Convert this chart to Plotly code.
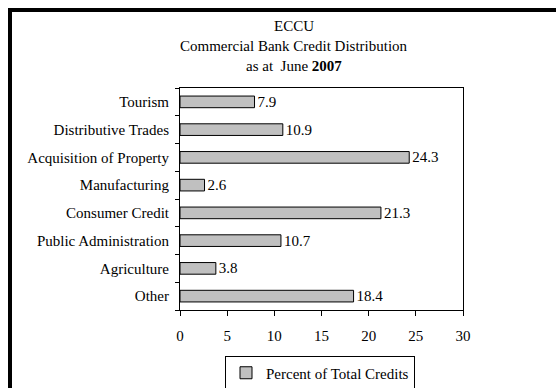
import plotly.graph_objects as go

# Sector shares of commercial bank credit, top-to-bottom as listed
sectors = ["Tourism", "Distributive Trades", "Acquisition of Property", "Manufacturing",
           "Consumer Credit", "Public Administration", "Agriculture", "Other"]
shares = [7.9, 10.9, 24.3, 2.6, 21.3, 10.7, 3.8, 18.4]
series_name = "Percent of Total Credits"
title_lines = ["ECCU", "Commercial Bank Credit Distribution", "as at  June <b>2007</b>"]

W, H = 556, 388
L, R, T, B = 180, 93, 88, 78
pw, ph = W - L - R, H - T - B

def px_x(x):
    return (x - L) / pw

def px_y(y):
    return (H - B - y) / ph

FONT = "Liberation Serif"
FS = 15

fig = go.Figure()
fig.add_trace(go.Bar(
    y=sectors, x=shares, orientation="h", name=series_name,
    marker=dict(color="#C0C0C0", line=dict(color="black", width=1)),
    width=0.42,
    text=[f"{v:.1f}" for v in shares], textposition="outside",
    textfont=dict(family=FONT, size=FS, color="black"),
    constraintext="none",
    cliponaxis=False, showlegend=True,
))

annotations = []
for i, line in enumerate(title_lines):
    annotations.append(dict(
        text=line, xref="paper", yref="paper", x=px_x(294), y=px_y(26 + i * 20),
        xanchor="center", yanchor="middle", showarrow=False,
        font=dict(family=FONT, size=FS, color="black"),
    ))

# Heavy outer frame running off the right and bottom edges
shapes = [dict(
    type="rect", xref="paper", yref="paper",
    x0=px_x(10), x1=px_x(W + 20), y0=px_y(H + 20), y1=px_y(10),
    line=dict(color="black", width=4), layer="above",
)]

fig.update_layout(
    width=W, height=H,
    margin=dict(l=L, r=R, t=T, b=B, autoexpand=False),
    paper_bgcolor="white", plot_bgcolor="white",
    font=dict(family=FONT, size=FS, color="black"),
    annotations=annotations, shapes=shapes,
    bargap=0.58,
    legend=dict(
        orientation="h", x=px_x(320), y=px_y(373), xanchor="center", yanchor="middle",
        bordercolor="black", borderwidth=1, bgcolor="white",
        font=dict(family=FONT, size=FS, color="black"),
        itemwidth=30,
    ),
    xaxis=dict(
        range=[0, 30], dtick=5, showgrid=False, zeroline=False,
        showline=True, linecolor="black", linewidth=1, mirror=True,
        ticks="outside", ticklen=5, tickcolor="black",
        ticklabelstandoff=7,
        tickfont=dict(family=FONT, size=FS, color="black"),
    ),
    yaxis=dict(
        categoryorder="array", categoryarray=sectors[::-1],
        showgrid=False, zeroline=False,
        showline=True, linecolor="black", linewidth=1, mirror=True,
        ticks="outside", ticklen=4, tickcolor="black", tickson="boundaries",
        ticklabelstandoff=7,
        tickfont=dict(family=FONT, size=FS, color="black"),
    ),
)

fig.write_html("out.html")
